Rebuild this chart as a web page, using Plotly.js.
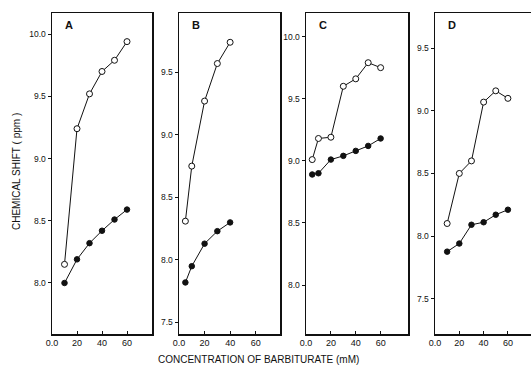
<!DOCTYPE html>
<html>
<head>
<meta charset="utf-8">
<script src="https://cdn.plot.ly/plotly-3.0.1.min.js"></script>
<style>html,body{margin:0;padding:0;background:#fff}#chart{width:531px;height:369px}</style>
</head>
<body>
<div id="chart"></div>
<script>
// Data
const panels = ["A", "B", "C", "D"];
const xA = [10, 20, 30, 40, 50, 60];
const openA = [8.15, 9.24, 9.52, 9.70, 9.79, 9.94];
const filledA = [8.00, 8.19, 8.32, 8.42, 8.51, 8.59];
const xB = [5, 10, 20, 30, 40];
const openB = [8.31, 8.75, 9.27, 9.57, 9.74];
const filledB = [7.82, 7.95, 8.13, 8.23, 8.30];
const xC = [5, 10, 20, 30, 40, 50, 60];
const openC = [9.01, 9.18, 9.19, 9.60, 9.66, 9.79, 9.75];
const filledC = [8.89, 8.90, 9.01, 9.04, 9.08, 9.12, 9.18];
const xD = [10, 20, 30, 40, 50, 60];
const openD = [8.10, 8.50, 8.60, 9.07, 9.16, 9.10];
const filledD = [7.875, 7.94, 8.09, 8.11, 8.17, 8.21];
const xTickVals = [0, 20, 40, 60];
const xTickText = ["0.0", "20", "40", "60"];
const yTickVals = [7.5, 8.0, 8.5, 9.0, 9.5, 10.0];
const yTickText = ["7.5", "8.0", "8.5", "9.0", "9.5", "10.0"];
const xTitle = "CONCENTRATION OF BARBITURATE (mM)";
const yTitle = "CHEMICAL SHIFT ( ppm )";

const W = 531, H = 369;
const sets = [
  {x: xA, o: openA, f: filledA, xd: [52, 152], xr: [0, 80], yr: [7.59, 10.17], mirrorY: true},
  {x: xB, o: openB, f: filledB, xd: [179, 280], xr: [0, 79], yr: [7.408, 9.974], mirrorY: true},
  {x: xC, o: openC, f: filledC, xd: [306, 408], xr: [0, 82], yr: [7.606, 10.19], mirrorY: true},
  {x: xD, o: openD, f: filledD, xd: [435, 531], xr: [0, 79], yr: [7.217, 9.782], mirrorY: false}
];
const font = {family: "Liberation Sans, Arial, sans-serif", color: "#111"};
const traces = [];
const layout = {
  width: W, height: H,
  margin: {l: 0, r: 0, t: 0, b: 0},
  paper_bgcolor: "#fff", plot_bgcolor: "#fff",
  showlegend: false,
  font: Object.assign({size: 9}, font),
  annotations: []
};
const yDom = [1 - 334 / H, 1 - 13 / H];
sets.forEach((s, i) => {
  const n = i === 0 ? "" : String(i + 1);
  const xa = "x" + n, ya = "y" + n;
  traces.push({
    x: s.x, y: s.f, xaxis: xa, yaxis: ya, type: "scatter", mode: "lines+markers",
    line: {color: "#111", width: 1},
    marker: {symbol: "circle", size: 5.5, color: "#111", line: {color: "#111", width: 1}},
    cliponaxis: false
  });
  traces.push({
    x: s.x, y: s.o, xaxis: xa, yaxis: ya, type: "scatter", mode: "lines+markers",
    line: {color: "#111", width: 1},
    marker: {symbol: "circle", size: 6, color: "#fff", line: {color: "#111", width: 1}},
    cliponaxis: false
  });
  layout["xaxis" + n] = {
    domain: [s.xd[0] / W, Math.min(1, s.xd[1] / W)], range: s.xr, anchor: ya,
    showgrid: false, zeroline: false, showline: true, linecolor: "#111", linewidth: 1.5,
    mirror: true, ticks: "inside", ticklen: 3, tickwidth: 1, tickcolor: "#111",
    tickvals: xTickVals, ticktext: xTickText, tickfont: {size: 9}, fixedrange: true
  };
  const yv = [], yt = [];
  yTickVals.forEach((v, k) => { if (v >= s.yr[0] && v <= s.yr[1]) { yv.push(v); yt.push(yTickText[k]); } });
  layout["yaxis" + n] = {
    domain: yDom, range: s.yr, anchor: xa,
    showgrid: false, zeroline: false, showline: true, linecolor: "#111", linewidth: 1.5,
    mirror: s.mirrorY, ticks: "outside", ticklen: 3, tickwidth: 1, tickcolor: "#111",
    tickvals: yv, ticktext: yt, tickfont: {size: 8.5}, fixedrange: true
  };
  layout.annotations.push({
    text: "<b>" + panels[i] + "</b>", xref: "paper", yref: "paper",
    x: (s.xd[0] + 11) / W, y: 1 - 25 / H, xanchor: "left", yanchor: "middle",
    showarrow: false, font: {size: 11, color: "#111"}
  });
});
layout.annotations.push({
  text: xTitle, xref: "paper", yref: "paper", x: 258 / W, y: 1 - 359 / H,
  xanchor: "center", yanchor: "middle", showarrow: false, font: {size: 10, color: "#111"}
});
layout.annotations.push({
  text: yTitle, xref: "paper", yref: "paper", x: 16 / W, y: 1 - 172 / H, textangle: -90,
  xanchor: "center", yanchor: "middle", showarrow: false, font: {size: 10, color: "#111"}
});
Plotly.newPlot("chart", traces, layout, {displayModeBar: false, staticPlot: true});
</script>
</body>
</html>
